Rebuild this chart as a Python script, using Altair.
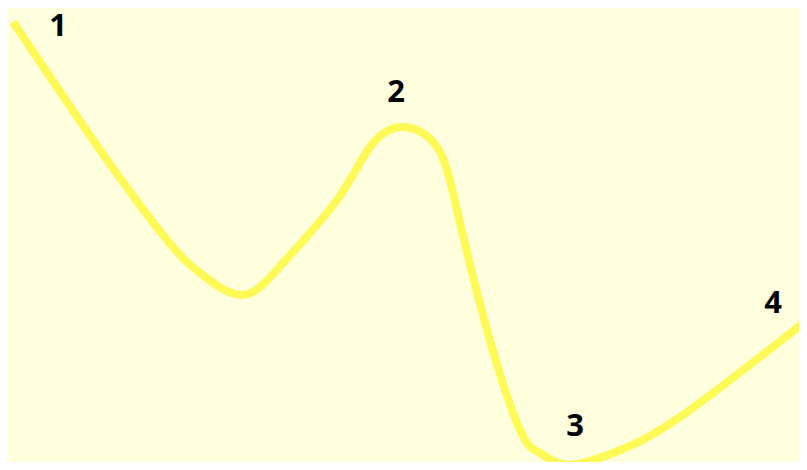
import altair as alt
import pandas as pd

# Curve (x to the right, y upwards, in picture units)
curve_x = [13, 100, 167, 200, 242, 283, 337, 370, 403, 437, 457, 487, 520, 540, 567, 613, 680, 807]
curve_y = [448, 320, 230, 197, 175, 207, 270, 323, 343, 323, 260, 140, 40, 17, 5, 17, 53, 150]

label_text = ["1", "2", "3", "4"]
label_x = [58, 396, 575, 773]
label_y = [443, 377, 43, 166]

curve = pd.DataFrame({"x": curve_x, "y": curve_y})
labels = pd.DataFrame({"t": label_text, "x": label_x, "y": label_y})

xs = alt.Scale(domain=[8, 799], nice=False, zero=False)
ys = alt.Scale(domain=[8, 462], nice=False, zero=False)

line = alt.Chart(curve).mark_line(
    color="#FFF955", strokeWidth=8, interpolate="natural", clip=True, strokeCap="butt"
).encode(
    x=alt.X("x:Q", scale=xs, axis=None),
    y=alt.Y("y:Q", scale=ys, axis=None),
)

text = alt.Chart(labels).mark_text(
    font="Open Sans", fontWeight="bold", fontSize=31, color="#000000",
    align="center", baseline="middle"
).encode(
    x=alt.X("x:Q", scale=xs, axis=None),
    y=alt.Y("y:Q", scale=ys, axis=None),
    text="t:N",
)

chart = (line + text).properties(
    width=791, height=454,
    autosize=alt.AutoSizeParams(type="fit", contains="padding"),
    padding=0,
    background="#FFFFDD",
).configure_view(stroke=None, fill="#FFFFDD")

chart.save("out.html", embed_options={"renderer": "svg", "actions": False})
